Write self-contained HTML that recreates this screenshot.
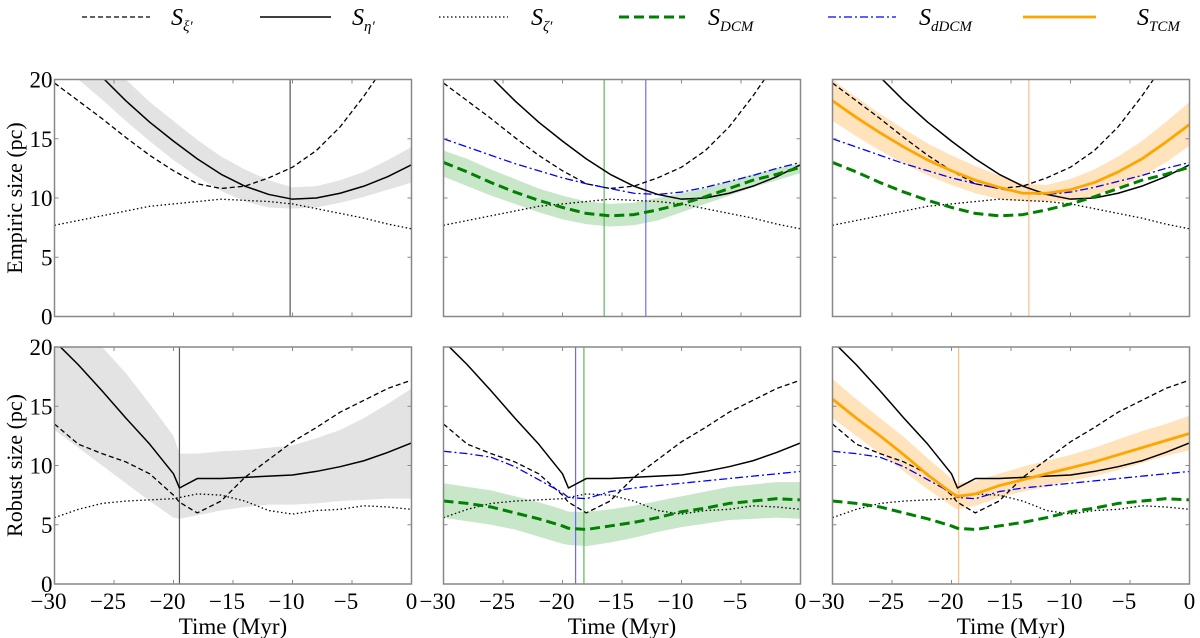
<!DOCTYPE html>
<html><head><meta charset="utf-8"><style>
html,body{margin:0;padding:0;background:#fff;}
svg{display:block;}
svg text{font-family:"Liberation Serif","DejaVu Serif",serif;}
</style></head><body>
<svg id="chart" width="1200" height="638" viewBox="0 0 1200 638" xmlns="http://www.w3.org/2000/svg">
<g id="legend"></g>
<g id="panels"></g>
</svg>
<script>
const T = [-30,-28,-26,-24,-22,-20,-18,-16,-14,-12,-10,-8,-6,-4,-2,0];
const TB = [-30,-28,-26,-24,-22,-20,-19.5,-18,-16,-14,-12,-10,-8,-6,-4,-2,0];
// top row (empiric)
const topXi   = [19.7,18.2,16.7,15.1,13.6,12.3,11.2,10.8,11.0,11.7,12.6,14.0,16.0,18.6,21.5,25];
const topEta  = [24,22,20.2,18.2,16.4,14.8,13.3,12.0,11.0,10.3,9.9,10.0,10.4,11.0,11.8,12.8];
const topEtaLo= [22,20,18.3,16.5,14.8,13.2,11.8,10.6,9.7,9.2,9.1,9.2,9.6,10.1,10.7,11.3];
const topEtaHi= [26,24,22.2,20,18.1,16.5,14.9,13.5,12.4,11.5,10.9,11.0,11.5,12.2,13.2,14.3];
const topZeta = [7.7,8.1,8.5,8.9,9.3,9.5,9.7,9.9,9.8,9.7,9.5,9.1,8.7,8.3,7.8,7.4];
const topD    = [13.0,12.2,11.3,10.5,9.8,9.2,8.7,8.5,8.6,9.0,9.5,10.1,10.8,11.5,12.0,12.6];
const topDLo  = [11.8,11.0,10.2,9.5,8.8,8.2,7.8,7.6,7.7,8.1,8.8,9.5,10.2,10.9,11.5,12.1];
const topDHi  = [14.0,13.3,12.4,11.6,10.8,10.2,9.7,9.5,9.6,10.0,10.4,10.8,11.4,12.0,12.5,12.9];
const topdD   = [15.0,14.3,13.6,12.9,12.3,11.7,11.2,10.8,10.4,10.3,10.5,10.9,11.4,11.9,12.5,13.0];
const topTcm  = [18.2,16.8,15.5,14.3,13.2,12.3,11.5,10.9,10.4,10.4,10.7,11.3,12.2,13.3,14.7,16.2];
const topTcmLo= [16.5,15.2,14.0,12.9,11.9,11.1,10.4,9.9,9.7,9.7,9.8,10.2,10.9,11.8,13.0,14.4];
const topTcmHi= [20,18.5,17.1,15.8,14.6,13.6,12.7,11.9,11.2,11.1,11.6,12.4,13.5,14.8,16.4,18.1];
// bottom row (robust)
const botXi   = [13.5,11.8,11.0,10.3,9.3,7.5,6.9,6.0,7.0,9.0,10.5,12.0,13.2,14.5,15.5,16.5,17.2];
const botEta  = [20.5,18.5,16.3,14.0,11.8,9.3,8.1,8.9,8.9,9.0,9.1,9.2,9.5,9.9,10.4,11.1,11.9];
const botEtaLo= [13.0,11.5,10.0,8.5,7.0,5.6,5.5,5.8,6.2,6.5,6.7,6.7,6.8,7.0,7.1,7.2,7.2];
const botEtaHi= [21,21,20,17.8,15.2,12.5,11.0,11.0,11.2,11.3,11.5,11.7,12.3,13.0,14.0,15.2,16.5];
const botZeta = [5.6,6.3,6.8,7.0,7.1,7.2,7.3,7.6,7.5,7.0,6.2,5.9,6.2,6.3,6.6,6.5,6.3];
const botD    = [7.0,6.8,6.5,6.0,5.5,4.9,4.7,4.6,4.9,5.2,5.6,6.1,6.4,6.8,7.0,7.2,7.1];
const botDLo  = [5.6,5.3,5.0,4.6,4.0,3.4,3.3,3.2,3.5,3.9,4.4,4.8,5.1,5.4,5.5,5.6,5.5];
const botDHi  = [8.5,8.2,7.9,7.4,6.9,6.3,6.1,6.1,6.3,6.6,7.0,7.4,7.8,8.2,8.4,8.6,8.6];
const botdD   = [11.2,11.0,10.7,9.9,8.8,7.7,7.3,7.2,7.8,8.1,8.3,8.5,8.7,8.9,9.1,9.3,9.5];
const botTcm  = [15.6,14.0,12.5,10.9,9.2,7.7,7.4,7.6,8.3,8.8,9.3,9.8,10.3,10.9,11.5,12.1,12.7];
const botTcmLo= [14.0,12.5,11.0,9.5,8.0,6.6,6.3,6.6,7.3,7.8,8.2,8.7,9.1,9.6,10.2,10.8,11.3];
const botTcmHi= [17.3,15.6,14.0,12.4,10.6,8.9,8.5,8.7,9.3,9.9,10.4,10.9,11.5,12.2,12.9,13.5,14.2];
const vlines = [[[-10.2,'#555']],[[-16.5,'#5cb85c'],[-13,'#6b6bff']],[[-13.5,'#f5c08a']],
                [[-19.5,'#555']],[[-18.9,'#6b6bff'],[-18.2,'#5cb85c']],[[-19.4,'#f5c08a']]];
const yTicks = [0,5,10,15,20];
const xTicks = [-30,-25,-20,-15,-10,-5,0];

const NS='http://www.w3.org/2000/svg';
const FF='"Liberation Serif", "DejaVu Serif", serif';
function mk(tag,attrs,parent){const e=document.createElementNS(NS,tag);for(const k in attrs)e.setAttribute(k,attrs[k]);if(tag==='text')e.setAttribute('font-family',FF);parent.appendChild(e);return e;}
const colsX=[54.5,443.5,832.5], W=357, rowsY=[79.5,347], H=237;
const panelsG=document.getElementById('panels');
const STY={
 xi:{stroke:'#000','stroke-width':1.3,'stroke-dasharray':'5,3'},
 eta:{stroke:'#000','stroke-width':1.5},
 zeta:{stroke:'#000','stroke-width':1.3,'stroke-dasharray':'1.5,2.5'},
 dcm:{stroke:'#008000','stroke-width':3,'stroke-dasharray':'10,5'},
 ddcm:{stroke:'#0000ff','stroke-width':1.3,'stroke-dasharray':'8,3,2,3'},
 tcm:{stroke:'#ffa500','stroke-width':2.8}
};
function panel(idx,row,col){
  const x0=colsX[col], y0=rowsY[row];
  const sx=v=>x0+(v+30)/30*W, sy=v=>y0+H-v/20*H;
  const g=mk('g',{},panelsG);
  
  
  const cid='clip'+idx;
  const cp=mk('clipPath',{id:cid},g); mk('rect',{x:x0,y:y0,width:W,height:H},cp);
  const inner=mk('g',{'clip-path':'url(#'+cid+')'},g);
  function band(xs,lo,hi,fill,name){
    let d='M'+xs.map((t,i)=>sx(t)+','+sy(hi[i])).join('L');
    for(let i=xs.length-1;i>=0;i--)d+='L'+sx(xs[i])+','+sy(lo[i]);
    const p=mk('path',{d:d+'Z',fill:fill,stroke:'none'},inner);
    
    
  }
  function line(xs,ys,s,name){
    const p=mk('path',Object.assign({d:'M'+xs.map((t,i)=>sx(t)+','+sy(ys[i])).join('L'),fill:'none','stroke-linejoin':'round'},STY[s]),inner);
    
    
  }
  const X=row?TB:T;
  const xi=row?botXi:topXi, eta=row?botEta:topEta, zeta=row?botZeta:topZeta;
  if(col===0) band(X,row?botEtaLo:topEtaLo,row?botEtaHi:topEtaHi,'#e3e3e3','eta-band');
  if(col===1) band(X,row?botDLo:topDLo,row?botDHi:topDHi,'#c8e6c8','dcm-band');
  if(col===2) band(X,row?botTcmLo:topTcmLo,row?botTcmHi:topTcmHi,'#ffe3bd','tcm-band');
  vlines[idx].forEach(v=>{const l=mk('line',{x1:sx(v[0]),x2:sx(v[0]),y1:y0,y2:y0+H,stroke:v[1],'stroke-width':1.2},inner);
    
    });
  line(X,xi,'xi','line-s-xi'); line(X,eta,'eta','line-s-eta'); line(X,zeta,'zeta','line-s-zeta');
  if(col>=1){ line(X,row?botdD:topdD,'ddcm','line-s-ddcm'); line(X,row?botD:topD,'dcm','line-s-dcm'); }
  if(col===2) line(X,row?botTcm:topTcm,'tcm','line-s-tcm');
  const fr=mk('rect',{x:x0,y:y0,width:W,height:H,fill:'none',stroke:'#888','stroke-width':1.5},g);
  
  
  xTicks.forEach(t=>{mk('line',{x1:sx(t),x2:sx(t),y1:y0+H,y2:y0+H-4,stroke:'#888'},g);mk('line',{x1:sx(t),x2:sx(t),y1:y0,y2:y0+4,stroke:'#888'},g);
    if(row===1){const tx=mk('text',{x:sx(t)+(t<0?-6:0),y:y0+H+25,'font-size':23,'text-anchor':'middle'},g);tx.textContent=(t<0?'\u2212':'')+Math.abs(t);
      
      }});
  yTicks.forEach(v=>{mk('line',{x1:x0,x2:x0+4,y1:sy(v),y2:sy(v),stroke:'#888'},g);mk('line',{x1:x0+W,x2:x0+W-4,y1:sy(v),y2:sy(v),stroke:'#888'},g);
    if(col===0){const tx=mk('text',{x:x0-2,y:sy(v)+8,'font-size':23,'text-anchor':'end'},g);tx.textContent=v;
      
      }});
  if(row===1){const tx=mk('text',{x:x0+W/2,y:y0+H+50,'font-size':23,'text-anchor':'middle'},g);tx.textContent='Time (Myr)';
    
    }
  if(col===0){const tx=mk('text',{x:0,y:0,'font-size':22,'text-anchor':'middle',transform:'translate(22,'+(y0+H/2)+') rotate(-90)'},g);
    tx.textContent=row?'Robust size (pc)':'Empiric size (pc)';
    
    }
}
let k=0;for(let r=0;r<2;r++)for(let c=0;c<3;c++)panel(k++,r,c);

const leg=document.getElementById('legend');
const legItems=[['xi',82,150,171,'\u03BE\u2032'],['eta',260,331,352,'\u03B7\u2032'],['zeta',439,508,531,'\u03B6\u2032'],
 ['dcm',619,685,708,'DCM'],['ddcm',828,896,919,'dDCM'],['tcm',1023,1096,1137,'TCM']];
legItems.forEach(it=>{
  const g=mk('g',{},leg);
  
  
  mk('line',Object.assign({x1:it[1],x2:it[2],y1:17,y2:17},STY[it[0]]),g);
  const tx=mk('text',{x:it[3],y:25,'font-size':24,'font-style':'italic'},g);
  tx.textContent='S';
  const sub=mk('tspan',{'font-size':15,dy:6},tx); sub.textContent=it[4];
});
</script>
</body></html>
